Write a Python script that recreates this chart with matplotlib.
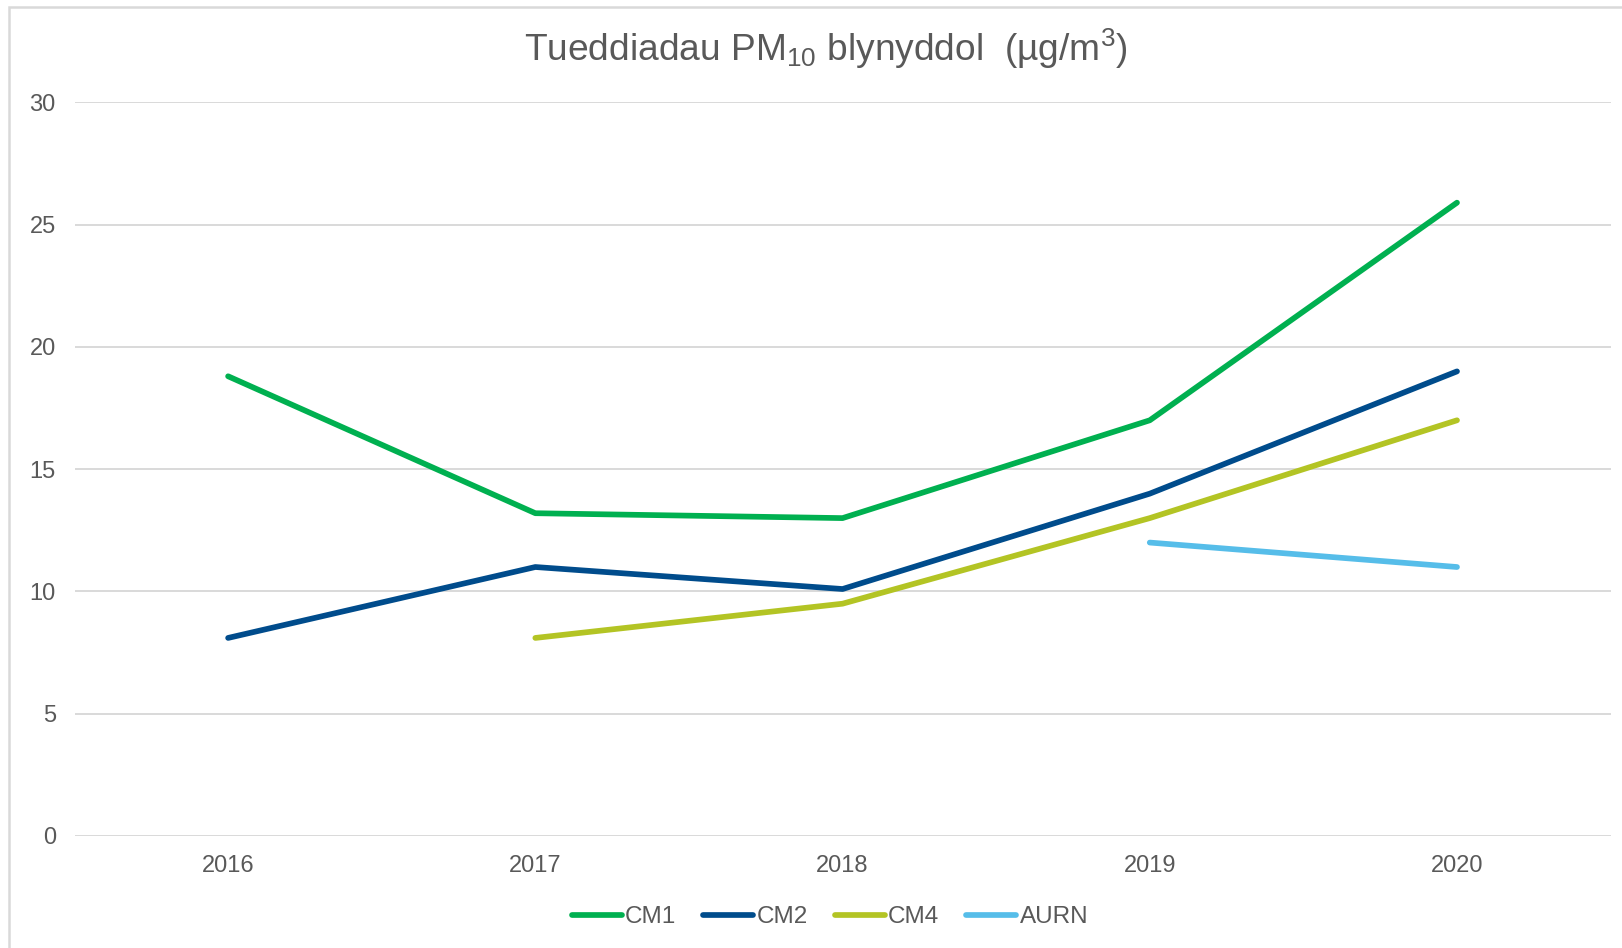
import matplotlib
matplotlib.use("Agg")
import matplotlib.pyplot as plt
from matplotlib.patches import Rectangle

years = ["2016", "2017", "2018", "2019", "2020"]
cm1 = [18.8, 13.2, 13.0, 17.0, 25.9]
cm2 = [8.1, 11.0, 10.1, 14.0, 19.0]
cm4 = [None, 8.1, 9.5, 13.0, 17.0]
aurn = [None, None, None, 12.0, 11.0]

names = ["CM1", "CM2", "CM4", "AURN"]
colors = ["#00B050", "#004C8C", "#B3C424", "#56BDE9"]
TXT = "#595959"
GRID = "#D9D9D9"

plt.rcParams.update({
    "font.family": ["Liberation Sans", "DejaVu Sans"],
    "mathtext.fontset": "custom",
    "mathtext.rm": "Liberation Sans",
    "mathtext.default": "regular",
})

W, H = 1622, 948
fig = plt.figure(figsize=(W / 100, H / 100), dpi=100)
ax = fig.add_axes([74.5 / W, 1 - 836 / H, (1610.6 - 74.5) / W, (836 - 102.4) / H])

xs = list(range(len(years)))
for vals, name, c in zip([cm1, cm2, cm4, aurn], names, colors):
    px = [x for x, v in zip(xs, vals) if v is not None]
    py = [v for v in vals if v is not None]
    ax.plot(px, py, color=c, lw=4.1, solid_capstyle="round",
            solid_joinstyle="round", label=name, zorder=3)

ax.set_xlim(-0.5, len(years) - 0.5)
ax.set_ylim(0, 30)
ax.set_yticks(range(0, 31, 5))
ax.set_xticks(xs)
ax.set_xticklabels(years)
for s in ax.spines.values():
    s.set_visible(False)
ax.grid(axis="y", color=GRID, lw=1.4, zorder=0)
ax.tick_params(length=0, labelsize=17, labelcolor=TXT)
ax.tick_params(axis="y", pad=13.5)
ax.tick_params(axis="x", pad=14)

fig.text(826 / W, 1 - 49 / H, r"Tueddiadau PM$_{10}$ blynyddol  (µg/m$^{3}$)",
         ha="center", va="center", fontsize=26.7, color=TXT)

leg = fig.legend(loc="center", bbox_to_anchor=(830 / W, 1 - 917 / H), ncol=4,
                 frameon=False, fontsize=17.5, handlelength=2.05,
                 handletextpad=0.15, columnspacing=1.1)
for t in leg.get_texts():
    t.set_color(TXT)

# chart-area border; right and bottom edges sit outside the image
fig.patches.append(Rectangle((9 / W, -0.05), 1.1, 1.05 - 6.5 / H,
                             transform=fig.transFigure, fill=False,
                             ec="#D9D9D9", lw=1.8))

fig.savefig("out.png", dpi=100)
